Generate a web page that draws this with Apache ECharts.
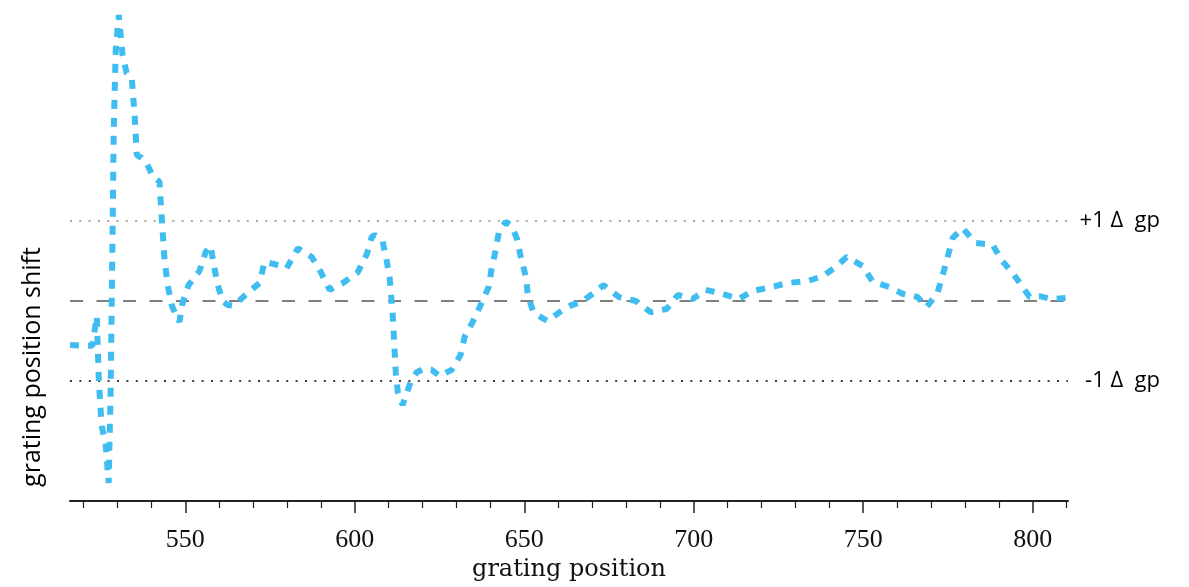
<!DOCTYPE html>
<html>
<head>
<meta charset="utf-8">
<script src="https://cdn.jsdelivr.net/npm/echarts@6/dist/echarts.min.js"></script>
<style>
html,body{margin:0;padding:0;background:#fff;}
#chart{width:1189px;height:587px;}
</style>
</head>
<body>
<div id="chart"></div>
<script>
var positions = [516, 521.2, 522.6, 523.9, 524.5, 525.3, 526.5, 527.4, 528.0, 528.6, 528.9, 529.5, 530.4,
  531.5, 532.7, 534.2, 535.1, 535.7, 537.1, 538.6, 540.4, 542.4, 543.0, 543.9, 544.8, 546.0, 547.2, 548.3,
  549.2, 551.0, 554.2, 556.0, 557.5, 558.4, 559.6, 561.0, 562.5, 564.3, 568.4, 571.9, 573.4, 576.3, 579.9,
  583.2, 587.3, 590.0, 592.6, 596.5, 600.9, 603.6, 605.0, 605.9, 608.2, 609.4, 610.3, 611.2, 612.1, 612.7,
  614.1, 616.5, 618.3, 620.3, 622.7, 625.1, 626.8, 628.6, 631.2, 632.4, 634.8, 637.4, 639.5, 640.4, 641.6,
  642.5, 644.5, 646.3, 648.0, 649.0, 650.5, 651.1, 652.8, 656.9, 661.4, 664.0, 666.3, 670.2, 673.4, 677.9,
  682.9, 687.3, 692.0, 695.3, 699.7, 703.5, 708.5, 713.3, 717.4, 723.0, 727.7, 733.6, 738.0, 741.9, 745.1,
  749.8, 752.8, 757.8, 761.6, 766.0, 768.7, 771.9, 774.0, 776.4, 779.3, 783.2, 788.2, 790.8, 794.1, 797.0,
  799.1, 802.0, 805.6, 810.3];
var shifts = [-0.55, -0.56, -0.56, -0.19, -0.99, -1.55, -1.79, -2.275, -1.11, 1.01, 2.14, 3.14, 3.575,
  3.075, 2.85, 2.8, 2.3, 1.825, 1.79, 1.725, 1.56, 1.49, 1.075, 0.51, 0.2, -0.05, -0.175, -0.26,
  -0.025, 0.2, 0.375, 0.61, 0.69, 0.45, 0.2, 0.0, -0.05, -0.06, 0.1, 0.225, 0.49, 0.46, 0.41,
  0.66, 0.55, 0.36, 0.14, 0.225, 0.36, 0.59, 0.8, 0.825, 0.75, 0.51, 0.29, -0.175, -0.89, -1.14,
  -1.3, -1.01, -0.89, -0.85, -0.86, -0.94, -0.9, -0.86, -0.675, -0.45, -0.26, -0.025, 0.175, 0.41, 0.64,
  0.86, 0.99, 0.94, 0.76, 0.54, 0.3, 0.06, -0.15, -0.25, -0.11, -0.05, -0.025, 0.09, 0.2, 0.05,
  0.0, -0.14, -0.1, 0.075, 0.025, 0.14, 0.09, 0.025, 0.125, 0.175, 0.225, 0.25, 0.31, 0.425, 0.55,
  0.44, 0.24, 0.175, 0.09, 0.05, -0.075, 0.1, 0.41, 0.79, 0.91, 0.725, 0.7, 0.51, 0.35, 0.175,
  0.05, 0.06, 0.025, 0.04];
var majorTicks = [550, 600, 650, 700, 750, 800];
var minorTicks = [520, 530, 540, 560, 570, 580, 590, 610, 620, 630, 640, 660, 670, 680, 690,
  710, 720, 730, 740, 760, 770, 780, 790, 810];
var refLevels = [1, 0, -1];
var refLabels = ['+1 \u0394  gp', '', '-1 \u0394  gp'];
var xName = 'grating position';
var yName = 'grating position shift';

var data = positions.map(function (p, i) { return [p, shifts[i]]; });
var chart = echarts.init(document.getElementById('chart'), null, {renderer: 'canvas'});

var refStyles = [
  {color: '#a8a8a8', width: 2, type: [2, 7.3]},
  {color: '#555555', width: 1.5, type: [13, 13.5]},
  {color: '#000000', width: 1.5, type: [2, 7.4]}
];

var option = {
  animation: false,
  backgroundColor: '#ffffff',
  grid: {left: 70, right: 121, top: 1, bottom: 86},
  xAxis: [{
    type: 'value', min: 516, max: 810.4, position: 'bottom',
    name: xName, nameLocation: 'middle', nameGap: 55,
    nameTextStyle: {fontFamily: 'DejaVu Serif', fontSize: 24, color: '#111'},
    axisLine: {show: true, onZero: false, lineStyle: {color: '#222', width: 2}},
    axisTick: {show: true, length: 12, lineStyle: {color: '#222', width: 1.5}, customValues: majorTicks},
    axisLabel: {show: true, customValues: majorTicks, margin: 26, fontFamily: 'Liberation Serif', fontSize: 26, color: '#111'},
    splitLine: {show: false}
  }, {
    type: 'value', min: 516, max: 810.4, position: 'bottom',
    axisLine: {show: false, onZero: false},
    axisTick: {show: true, length: 7, lineStyle: {color: '#222', width: 1.2}, customValues: minorTicks},
    axisLabel: {show: false},
    splitLine: {show: false}
  }],
  yAxis: {type: 'value', min: -2.5, max: 3.75, show: false, splitLine: {show: false}},
  graphic: [{
    type: 'text', x: 33, y: 367, rotation: Math.PI / 2,
    style: {text: yName, fontFamily: 'Open Sans', fontSize: 25, fill: '#000', align: 'center', verticalAlign: 'middle'}
  }],
  series: [{
    type: 'line',
    xAxisIndex: 0,
    data: data,
    showSymbol: false,
    symbol: 'none',
    lineStyle: {color: '#3fbdf0', width: 6, type: [9, 9], cap: 'butt'},
    z: 3,
    markLine: {
      silent: true,
      symbol: 'none',
      z: 2,
      data: refLevels.map(function (v, i) {
        return {
          yAxis: v,
          lineStyle: refStyles[i],
          label: {
            show: refLabels[i] !== '',
            position: 'end',
            distance: 14,
            formatter: '{a|' + refLabels[i] + '}',
            rich: {a: {width: 78, align: 'right', fontFamily: 'Open Sans', fontSize: 22, color: '#000'}}
          }
        };
      })
    }
  }]
};
chart.setOption(option);
</script>
</body>
</html>
